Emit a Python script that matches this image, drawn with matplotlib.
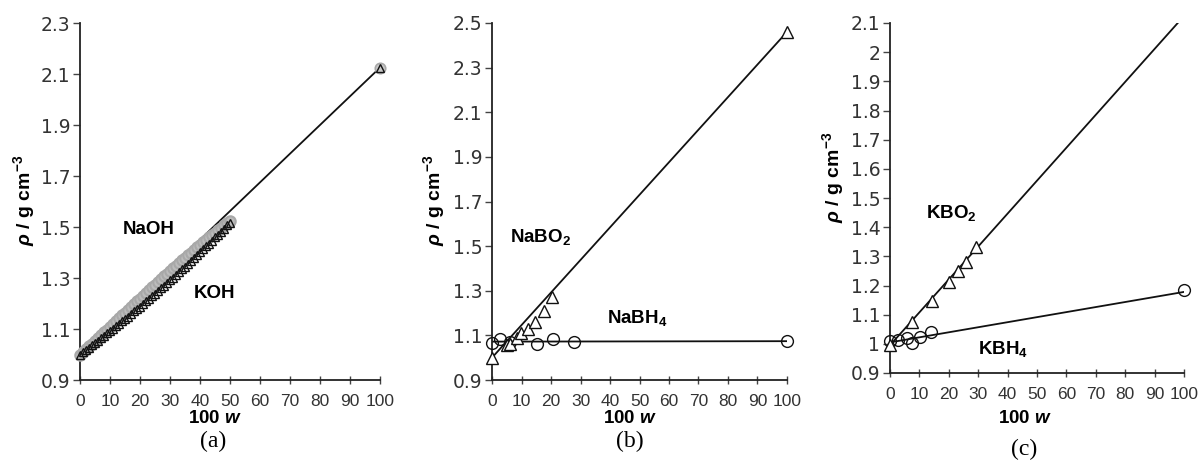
import matplotlib
matplotlib.use("Agg")
import matplotlib.pyplot as plt
import numpy as np

plt.rcParams['font.family'] = ['Liberation Sans', 'DejaVu Sans']
plt.rcParams['mathtext.fontset'] = 'custom'
plt.rcParams['mathtext.rm'] = 'Liberation Sans:bold'
plt.rcParams['mathtext.it'] = 'Liberation Sans:italic:bold'
plt.rcParams['mathtext.bf'] = 'Liberation Sans:bold'

# ---------------- data ----------------
# panel (a)
w_hyd = list(range(0, 51))
rho_naoh = [0.998, 1.010, 1.021, 1.032, 1.043, 1.054, 1.065, 1.076, 1.087, 1.098,
            1.109, 1.120, 1.131, 1.142, 1.153, 1.164, 1.175, 1.186, 1.197, 1.208,
            1.219, 1.230, 1.241, 1.252, 1.263, 1.274, 1.285, 1.296, 1.306, 1.317,
            1.328, 1.338, 1.349, 1.359, 1.370, 1.380, 1.390, 1.400, 1.410, 1.420,
            1.430, 1.440, 1.449, 1.459, 1.469, 1.478, 1.488, 1.497, 1.507, 1.516,
            1.525]
rho_koh = [0.998, 1.008, 1.017, 1.027, 1.036, 1.045, 1.054, 1.064, 1.073, 1.083,
           1.092, 1.101, 1.111, 1.120, 1.130, 1.140, 1.149, 1.159, 1.169, 1.179,
           1.188, 1.198, 1.208, 1.218, 1.229, 1.239, 1.249, 1.259, 1.270, 1.280,
           1.291, 1.301, 1.312, 1.323, 1.334, 1.345, 1.356, 1.367, 1.378, 1.390,
           1.401, 1.412, 1.424, 1.435, 1.447, 1.459, 1.470, 1.482, 1.494, 1.506,
           1.517]
w_pure_a = [100]
rho_pure_a = [2.122]
line_a_w = [0, 100]
line_a_rho = [1.0, 2.125]

# panel (b)
w_nabo2 = [0, 5.0, 6.1, 8.6, 9.8, 12.1, 14.6, 17.5, 20.2, 100]
rho_nabo2 = [0.997, 1.057, 1.060, 1.087, 1.109, 1.129, 1.161, 1.209, 1.274, 2.46]
w_nabh4 = [0, 2.7, 6.0, 15.1, 20.6, 27.9, 100]
rho_nabh4 = [1.067, 1.082, 1.070, 1.061, 1.082, 1.072, 1.075]
line_nabo2_w = [0, 100]
line_nabo2_rho = [1.0, 2.46]
line_nabh4_w = [0, 100]
line_nabh4_rho = [1.072, 1.074]

# panel (c)
w_kbo2 = [0, 7.6, 14.2, 20.2, 23.0, 25.9, 29.1]
rho_kbo2 = [0.996, 1.074, 1.147, 1.213, 1.251, 1.282, 1.333]
w_kbh4 = [0, 2.7, 5.7, 7.6, 10.2, 13.8, 100]
rho_kbh4 = [1.010, 1.013, 1.020, 1.004, 1.024, 1.039, 1.183]
line_kbo2_w = [0, 100]
line_kbo2_rho = [0.995, 2.124]
line_kbh4_w = [0, 100]
line_kbh4_rho = [1.005, 1.178]

yticks_a = [0.9, 1.1, 1.3, 1.5, 1.7, 1.9, 2.1, 2.3]
yticks_b = [0.9, 1.1, 1.3, 1.5, 1.7, 1.9, 2.1, 2.3, 2.5]
yticks_c = [0.9, 1.0, 1.1, 1.2, 1.3, 1.4, 1.5, 1.6, 1.7, 1.8, 1.9, 2.0, 2.1]
yticklabels_c = ['0.9', '1', '1.1', '1.2', '1.3', '1.4', '1.5', '1.6', '1.7',
                 '1.8', '1.9', '2', '2.1']
xticks = list(range(0, 101, 10))

# ---------------- figure ----------------
fig = plt.figure(figsize=(11.99, 4.67), dpi=100)
H = 467.0
W = 1199.0

def make_ax(x0, x1, ytop, ybot):
    return fig.add_axes([x0 / W, 1 - ybot / H, (x1 - x0) / W, (ybot - ytop) / H])

axa = make_ax(80, 380, 23, 380)
axb = make_ax(492, 787, 23, 380)
axc = make_ax(890, 1184, 23, 373)

tick_col = '#333333'
for ax in (axa, axb, axc):
    for s in ('top', 'right'):
        ax.spines[s].set_visible(False)
    for s in ('left', 'bottom'):
        ax.spines[s].set_linewidth(1.3)
        ax.spines[s].set_color('#222222')
    ax.set_xlim(0, 100)
    ax.set_xticks(xticks)
    ax.tick_params(axis='x', direction='inout', length=6, width=1.0,
                   labelsize=12.5, labelcolor=tick_col, pad=7, color='#444444')
    ax.tick_params(axis='y', direction='out', length=5, width=1.0,
                   labelsize=13.5, labelcolor=tick_col, pad=2, color='#444444')
    ax.set_facecolor('none')

ylab = r'$\rho$ / g cm$^{-3}$'
xlab = r'100 $w$'

def style_yticks(ax):
    for lab in ax.get_yticklabels():
        lab.set_family('DejaVu Sans')

# panel a
axa.set_ylim(0.9, 2.3)
axa.set_yticks(yticks_a)
axa.set_yticklabels(['%.1f' % v for v in yticks_a])
axa.plot(line_a_w, line_a_rho, color='#111111', lw=1.3, zorder=2)
axa.plot(w_hyd, rho_naoh, 'o', ms=7.5, mfc='#bcbcbc', mec='#a8a8a8', mew=1.5,
         zorder=3, clip_on=False)
axa.plot(w_hyd, rho_koh, '^', ms=5.5, mfc='none', mec='#111111', mew=1.0,
         zorder=4, clip_on=False)
axa.plot(w_pure_a, rho_pure_a, 'o', ms=7.5, mfc='#c8c8c8', mec='#a8a8a8', mew=1.2,
         zorder=3, clip_on=False)
axa.plot(w_pure_a, rho_pure_a, '^', ms=6, mfc='none', mec='#111111', mew=1.0,
         zorder=4, clip_on=False)
axa.text(23, 1.49, 'NaOH', fontsize=13.5, fontweight='bold', ha='center', va='center')
axa.text(44.7, 1.241, 'KOH', fontsize=13.5, fontweight='bold', ha='center', va='center')
axa.set_ylabel(ylab, fontsize=14, fontweight='bold')
axa.yaxis.set_label_coords(-0.142, 0.504)
axa.set_xlabel(xlab, fontsize=13.5, fontweight='bold')
axa.xaxis.set_label_coords(0.45, -0.084)
style_yticks(axa)

# panel b
axb.set_ylim(0.9, 2.5)
axb.set_yticks(yticks_b)
axb.set_yticklabels(['%.1f' % v for v in yticks_b])
axb.plot(line_nabo2_w, line_nabo2_rho, color='#111111', lw=1.3, zorder=2)
axb.plot(line_nabh4_w, line_nabh4_rho, color='#111111', lw=1.3, zorder=2)
axb.plot(w_nabo2, rho_nabo2, '^', ms=9, mfc='white', mec='#111111', mew=1.0,
         zorder=4, clip_on=False)
axb.plot(w_nabh4, rho_nabh4, 'o', ms=8.5, mfc='none', mec='#111111', mew=1.0,
         zorder=3, clip_on=False)
axb.text(16.3, 1.543, r'NaBO$_\mathregular{2}$', fontsize=13.5, fontweight='bold',
         ha='center', va='center')
axb.text(49.4, 1.177, r'NaBH$_\mathregular{4}$', fontsize=13.5, fontweight='bold',
         ha='center', va='center')
axb.set_ylabel(ylab, fontsize=14, fontweight='bold')
axb.yaxis.set_label_coords(-0.152, 0.504)
axb.set_xlabel(xlab, fontsize=13.5, fontweight='bold')
axb.xaxis.set_label_coords(0.468, -0.084)
style_yticks(axb)

# panel c
axc.set_ylim(0.9, 2.1)
axc.set_yticks(yticks_c)
axc.set_yticklabels(yticklabels_c)
axc.plot(line_kbo2_w, line_kbo2_rho, color='#111111', lw=1.3, zorder=2)
axc.plot(line_kbh4_w, line_kbh4_rho, color='#111111', lw=1.3, zorder=2)
axc.plot(w_kbo2, rho_kbo2, '^', ms=9, mfc='white', mec='#111111', mew=1.0,
         zorder=4, clip_on=False)
axc.plot(w_kbh4, rho_kbh4, 'o', ms=8.5, mfc='none', mec='#111111', mew=1.0,
         zorder=3, clip_on=False)
axc.text(21, 1.447, r'KBO$_\mathregular{2}$', fontsize=13.5, fontweight='bold',
         ha='center', va='center')
axc.text(38.5, 0.983, r'KBH$_\mathregular{4}$', fontsize=13.5, fontweight='bold',
         ha='center', va='center')
axc.set_ylabel(ylab, fontsize=14, fontweight='bold')
axc.yaxis.set_label_coords(-0.15, 0.56)
axc.set_xlabel(xlab, fontsize=13.5, fontweight='bold')
axc.xaxis.set_label_coords(0.459, -0.106)
style_yticks(axc)

# panel captions
for (xp, yp, t) in ((213, 441, '(a)'), (630, 441, '(b)'), (1024, 449, '(c)')):
    fig.text(xp / W, 1 - yp / H, t, fontsize=17, family='Liberation Serif',
             ha='center', va='center')

fig.savefig('out.png', dpi=100)
